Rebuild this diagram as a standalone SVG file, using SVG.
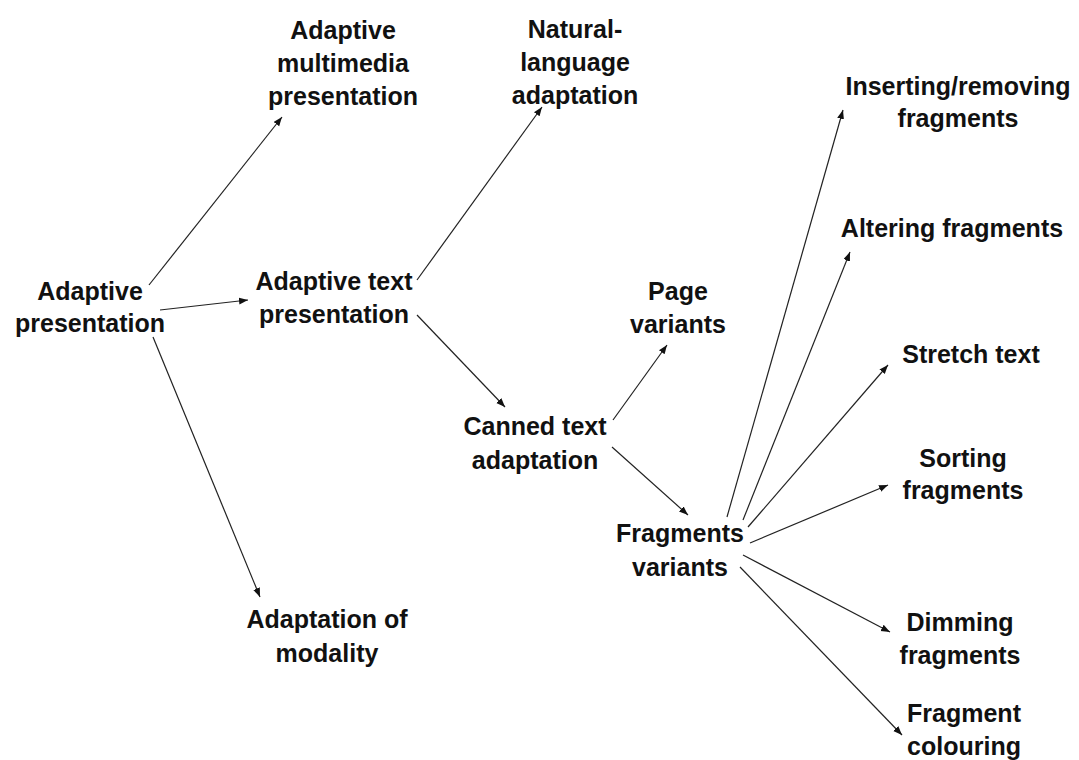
<svg xmlns="http://www.w3.org/2000/svg" width="1079" height="760" viewBox="0 0 1079 760">
<style>
text{font-family:"Liberation Sans",Arial,sans-serif;font-size:25px;font-weight:bold;fill:#111;text-anchor:middle}
.c line{stroke:#222;stroke-width:1.2;marker-end:url(#ah)}
</style>
<defs>
<marker id="ah" markerUnits="userSpaceOnUse" markerWidth="10" markerHeight="8" refX="9" refY="3.5" orient="auto">
<path d="M0,0 L9,3.5 L0,7 z" fill="#111"/>
</marker>
</defs>
<rect width="1079" height="760" fill="#fff"/>
<g class="c" id="connectors">
<line x1="149" y1="285" x2="282" y2="117"/>
<line x1="160" y1="310" x2="248" y2="300"/>
<line x1="153" y1="337" x2="260" y2="597"/>
<line x1="417" y1="280" x2="542" y2="107"/>
<line x1="417" y1="315" x2="505" y2="407"/>
<line x1="613" y1="420" x2="667" y2="345"/>
<line x1="612" y1="447" x2="688" y2="515"/>
<line x1="727" y1="517" x2="843" y2="110"/>
<line x1="743" y1="520" x2="850" y2="252"/>
<line x1="748" y1="527" x2="888" y2="365"/>
<line x1="750" y1="543" x2="888" y2="485"/>
<line x1="743" y1="555" x2="890" y2="632"/>
<line x1="740" y1="567" x2="902" y2="735"/>
</g>
<g id="adaptive-presentation"><text x="90" y="300">Adaptive</text><text x="90" y="332">presentation</text></g>
<g id="adaptive-multimedia"><text x="343" y="39">Adaptive</text><text x="343" y="72">multimedia</text><text x="343" y="105">presentation</text></g>
<g id="natural-language"><text x="575" y="38">Natural-</text><text x="575" y="71">language</text><text x="575" y="104">adaptation</text></g>
<g id="adaptive-text"><text x="334" y="290">Adaptive text</text><text x="334" y="323">presentation</text></g>
<g id="adaptation-modality"><text x="327" y="628">Adaptation of</text><text x="327" y="662">modality</text></g>
<g id="canned-text"><text x="535" y="435">Canned text</text><text x="535" y="469">adaptation</text></g>
<g id="page-variants"><text x="678" y="300">Page</text><text x="678" y="333">variants</text></g>
<g id="fragments-variants"><text x="680" y="542">Fragments</text><text x="680" y="576">variants</text></g>
<g id="inserting"><text x="958" y="95">Inserting/removing</text><text x="958" y="127">fragments</text></g>
<g id="altering"><text x="952" y="237">Altering fragments</text></g>
<g id="stretch"><text x="971" y="363">Stretch text</text></g>
<g id="sorting"><text x="963" y="467">Sorting</text><text x="963" y="499">fragments</text></g>
<g id="dimming"><text x="960" y="631">Dimming</text><text x="960" y="664">fragments</text></g>
<g id="colouring"><text x="964" y="722">Fragment</text><text x="964" y="755">colouring</text></g>
</svg>
